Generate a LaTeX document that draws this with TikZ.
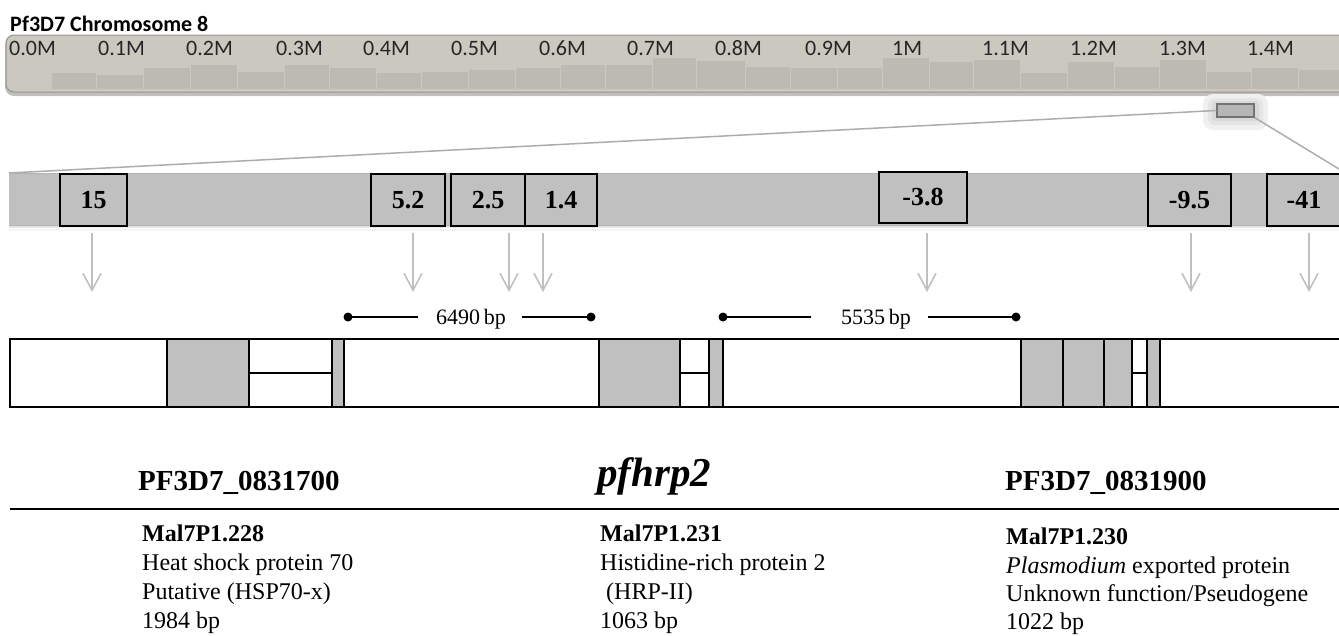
\documentclass[tikz,border=0pt]{standalone}
\usepackage{fontspec}
\setmainfont{Liberation Serif}
\newfontfamily\carl{Carlito}
\usetikzlibrary{arrows.meta}
\definecolor{chrom}{RGB}{203,200,192}
\definecolor{chrombin}{RGB}{189,186,178}
\definecolor{chromedge}{RGB}{150,148,142}
\definecolor{zoomgray}{RGB}{192,192,192}
\definecolor{arrowgray}{RGB}{192,192,192}
\definecolor{linegray}{RGB}{172,172,172}
\tikzset{
  chromlbl/.style={anchor=base west, inner sep=0pt, font=\carl\fontsize{22}{26}\selectfont, text=black!85},
  numbox/.style={draw=black, line width=2pt, fill=zoomgray, inner sep=0pt, font=\bfseries\fontsize{26}{30}\selectfont},
  pointer/.style={arrowgray, line width=1.6pt, -{Straight Barb[length=17pt,width=18pt]}},
  bpline/.style={black, line width=2pt},
  bptext/.style={anchor=base, inner sep=0pt, font=\fontsize{22}{26}\selectfont},
  genebox/.style={draw=black, line width=2.2pt},
  graybox/.style={draw=black, line width=2.2pt, fill=zoomgray},
  genetitle/.style={anchor=base west, inner sep=0pt, font=\bfseries\fontsize{29}{34}\selectfont},
  infobold/.style={anchor=base west, inner sep=0pt, font=\bfseries\fontsize{24}{28}\selectfont},
  info/.style={anchor=base west, inner sep=0pt, font=\fontsize{24}{28}\selectfont},
}
\begin{document}
\begin{tikzpicture}[x=1pt,y=-1pt]
\useasboundingbox (0,0) rectangle (1339,635);
\clip (0,0) rectangle (1339,635);

% ---------- chromosome overview ----------
\node[anchor=base west, inner sep=0pt, font=\carl\bfseries\fontsize{22}{26}\selectfont] (title) at (10,31) {Pf3D7 Chromosome 8};

\fill[chromedge!60, rounded corners=9pt] (5,36) rectangle (1360,96);
\fill[chrom, rounded corners=8pt] (6,35) rectangle (1360,92);
\foreach \a/\b/\t in {51/96/73, 96/143/75, 143/190/68, 190/237/65, 237/284/72, 284/329/65,
  329/376/68, 376/421/73, 421/468/72, 468/515/70, 515/560/68, 560/605/65, 605/652/65,
  652/696/58, 696/745/61, 745/790/67, 790/837/68, 837/882/68, 882/929/58, 929/973/62,
  973/1020/60, 1020/1067/73, 1067/1114/62, 1114/1159/67, 1159/1206/60, 1206/1251/72,
  1251/1298/68, 1298/1345/70}
  {\fill[chrombin] (\a+0.5,\t) rectangle (\b-0.5,89);}
\draw[chromedge, line width=1pt, rounded corners=8pt] (1360,35) -- (6,35) -- (6,92) -- (1360,92);

\node[chromlbl] (m00) at (9,55) {0.0M};
\node[chromlbl] (m01) at (98,55) {0.1M};
\node[chromlbl] (m02) at (186,55) {0.2M};
\node[chromlbl] (m03) at (276,55) {0.3M};
\node[chromlbl] (m04) at (363,55) {0.4M};
\node[chromlbl] (m05) at (451,55) {0.5M};
\node[chromlbl] (m06) at (539,55) {0.6M};
\node[chromlbl] (m07) at (627,55) {0.7M};
\node[chromlbl] (m08) at (715,55) {0.8M};
\node[chromlbl] (m09) at (805,55) {0.9M};
\node[chromlbl] (m10) at (892,55) {1M};
\node[chromlbl] (m11) at (982,55) {1.1M};
\node[chromlbl] (m12) at (1070,55) {1.2M};
\node[chromlbl] (m13) at (1159,55) {1.3M};
\node[chromlbl] (m14) at (1247,55) {1.4M};

% marker with glow
\fill[black!6, rounded corners=10pt] (1203,94) rectangle (1268,130);
\fill[black!10, rounded corners=7pt] (1208,98) rectangle (1263,125);
\fill[black!15, rounded corners=4pt] (1212,101) rectangle (1259,121);
\node[draw=black!55, line width=1.2pt, fill=zoomgray!95!black, minimum width=37pt, minimum height=13pt, inner sep=0pt] (marker) at (1235.5,110.5) {};

% ---------- zoomed region ----------
\coordinate (zl) at (9,173);
\coordinate (zr) at (1339,169);
\draw[linegray, line width=1.5pt] (marker.west) -- (zl);
\draw[linegray, line width=1.5pt] (marker.south east) -- (zr);

\foreach \k/\o in {1/0.35,2/0.25,3/0.15,4/0.08}
  {\fill[black, opacity=\o*0.35] (9,224+\k*1.5) rectangle (1345,225+\k*1.5);}
\fill[zoomgray] (9,173) rectangle (1345,225);
\draw[black!30, line width=1pt] (9,173) -- (1345,173);
\draw[black!28, line width=1pt] (9,225) -- (1345,225);

\node[numbox, minimum width=67pt, minimum height=52pt] (b15) at (93.5,200) {15};
\node[numbox, minimum width=74pt, minimum height=52pt] (b52) at (408,200) {5.2};
\node[numbox, minimum width=74pt, minimum height=52pt] (b25) at (488,200) {2.5};
\node[numbox, minimum width=72pt, minimum height=52pt] (b14) at (561,200) {1.4};
\node[numbox, minimum width=88pt, minimum height=51pt] (b38) at (923,197.5) {-3.8};
\node[numbox, minimum width=83pt, minimum height=52pt] (b95) at (1189.5,200) {-9.5};
\node[numbox, minimum width=74pt, minimum height=52pt] (b41) at (1304,200) {-41};

% pointers
\foreach \n/\x in {p1/92, p2/413, p3/509, p4/543, p5/927, p6/1191, p7/1309}{
  \coordinate (\n s) at (\x,233);
  \coordinate (\n e) at (\x,292);
  \draw[pointer] (\n s) -- (\n e);
}

% bp spans
\coordinate (d1) at (348,317);
\coordinate (d1r) at (418,317);
\coordinate (d2l) at (522,317);
\coordinate (d2) at (591,317);
\node[bptext] (bp1) at (471,324) {6490\,bp};
\draw[bpline] (d1) -- (d1r);
\draw[bpline] (d2l) -- (d2);
\fill (d1) circle (4.5pt);
\fill (d2) circle (4.5pt);

\coordinate (d3) at (723,317);
\coordinate (d3r) at (811,317);
\coordinate (d4l) at (928,317);
\coordinate (d4) at (1016,317);
\node[bptext] (bp2) at (876,324) {5535\,bp};
\draw[bpline] (d3) -- (d3r);
\draw[bpline] (d4l) -- (d4);
\fill (d3) circle (4.5pt);
\fill (d4) circle (4.5pt);

% ---------- gene map ----------
\fill[white] (10,339) rectangle (1345,407);
\foreach \a/\b in {167/249, 332/344, 599/680, 709/723, 1021/1063, 1063/1104, 1104/1132, 1147/1160}
  {\draw[graybox] (\a,339) rectangle (\b,407);}
\draw[genebox] (249,339) -- (249,407);
\draw[genebox] (249,373) -- (332,373);
\draw[genebox] (680,373) -- (709,373);
\draw[genebox] (1132,373) -- (1147,373);
\draw[genebox] (10,339) rectangle (1345,407);

% ---------- gene annotations ----------
\node[genetitle] (g1) at (138,490) {PF3D7\_0831700};
\node[anchor=base west, inner sep=0pt, font=\bfseries\itshape\fontsize{41}{46}\selectfont] (g2) at (597,486) {pfhrp2};
\node[genetitle] (g3) at (1005,490) {PF3D7\_0831900};

\coordinate (hl) at (10,509);
\coordinate (hr) at (1345,509);
\draw[black, line width=2.2pt] (hl) -- (hr);

\node[infobold] (l1) at (142,541) {Mal7P1.228};
\node[info] (l2) at (142,570) {Heat shock protein 70};
\node[info] (l3) at (142,599) {Putative (HSP70-x)};
\node[info] (l4) at (142,628) {1984 bp};

\node[infobold] (c1) at (600,541) {Mal7P1.231};
\node[info] (c2) at (600,570) {Histidine-rich protein 2};
\node[info] (c3) at (606,599) {(HRP-II)};
\node[info] (c4) at (600,628) {1063 bp};

\node[infobold] (r1) at (1006,544) {Mal7P1.230};
\node[info] (r2) at (1006,573) {\textit{Plasmodium} exported protein};
\node[info] (r3) at (1006,601) {Unknown function/Pseudogene};
\node[info] (r4) at (1006,629) {1022 bp};
\end{tikzpicture}
\end{document}
